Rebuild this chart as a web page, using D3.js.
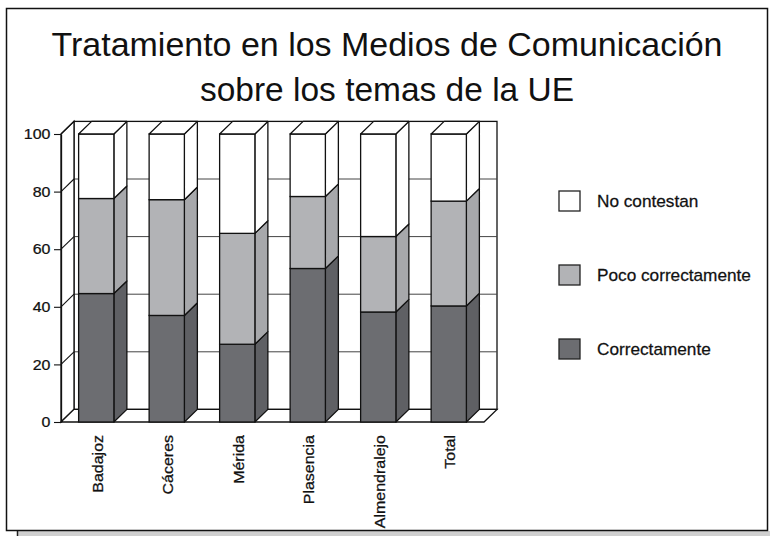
<!DOCTYPE html>
<html>
<head>
<meta charset="utf-8">
<script src="https://cdn.jsdelivr.net/npm/d3@7/dist/d3.min.js"></script>
<style>
  html, body { margin: 0; padding: 0; background: #fff; }
  svg { display: block; }
  text { font-family: "Liberation Sans", Arial, sans-serif; fill: #111; }
  .lbl { stroke: #111; stroke-width: 0.25px; }
</style>
</head>
<body>
<svg id="chart" width="770" height="536"></svg>
<script>
const titleLines = ["Tratamiento en los Medios de Comunicación", "sobre los temas de la UE"];
const categories = ["Badajoz", "Cáceres", "Mérida", "Plasencia", "Almendralejo", "Total"];
const correctamente = [44.6, 37.0, 27.0, 53.3, 38.2, 40.3];
const pocoCorrectamente = [33.0, 40.2, 38.5, 25.0, 26.2, 36.4];
const noContestan = [22.4, 22.8, 34.5, 21.7, 35.6, 23.3];
const seriesNames = ["Correctamente", "Poco correctamente", "No contestan"];
const yTicks = [0, 20, 40, 60, 80, 100];

const svg = d3.select("#chart");
const W = 770, H = 536;

// frame
svg.append("rect").attr("x", 17).attr("y", 531).attr("width", W - 17).attr("height", 5).attr("fill", "#cfcfcf");
svg.append("line").attr("x1", 17.5).attr("x2", 17.5).attr("y1", 531).attr("y2", 536).attr("stroke", "#222").attr("stroke-width", 1.5);
svg.append("rect").attr("x", 6.5).attr("y", 8.5).attr("width", 761).attr("height", 522)
  .attr("fill", "#fff").attr("stroke", "#111").attr("stroke-width", 1.5);

// title
const titleG = svg.append("g");
const titleSpecs = [{ y: 56, len: 671 }, { y: 101, len: 374 }];
titleLines.forEach((t, i) => {
  titleG.append("text")
    .attr("x", 387).attr("y", titleSpecs[i].y)
    .attr("text-anchor", "middle")
    .attr("font-size", 34)
    .attr("textLength", titleSpecs[i].len)
    .attr("lengthAdjust", "spacingAndGlyphs")
    .style("font-family", "'Liberation Sans', Arial, sans-serif")
    .text(t);
});

// scales
const x = d3.scaleBand().domain(categories).range([61, 484]).paddingInner(0.5).paddingOuter(0.25);
const y = d3.scaleLinear().domain([0, 100]).range([422, 134]);
const dx = 13, dy = -12.6;
const x0 = x.range()[0], x1 = x.range()[1];

const colors = { front: ["#6c6d71", "#b2b3b6", "#ffffff"], side: ["#5f6064", "#a7a8ab", "#ffffff"] };
const strokeC = "#111", sw = 1.3;

// back wall
const g = svg.append("g");
g.append("rect").attr("x", x0 + dx).attr("y", y(100) + dy).attr("width", x1 - x0).attr("height", y(0) - y(100))
  .attr("fill", "#fff").attr("stroke", strokeC).attr("stroke-width", sw);
g.selectAll(".grid").data(yTicks.filter(v => v > 0 && v < 100)).enter().append("line")
  .attr("x1", x0 + dx).attr("x2", x1 + dx)
  .attr("y1", d => y(d) + dy).attr("y2", d => y(d) + dy)
  .attr("stroke", "#444").attr("stroke-width", 1);
// left wall
g.append("path")
  .attr("d", `M${x0},${y(0)} L${x0},${y(100)} L${x0 + dx},${y(100) + dy} L${x0 + dx},${y(0) + dy} Z`)
  .attr("fill", "#fff").attr("stroke", strokeC).attr("stroke-width", sw);
g.selectAll(".diag").data(yTicks).enter().append("line")
  .attr("x1", x0).attr("y1", d => y(d))
  .attr("x2", x0 + dx).attr("y2", d => y(d) + dy)
  .attr("stroke", strokeC).attr("stroke-width", 1.1);
// floor
g.append("path")
  .attr("d", `M${x0},${y(0)} L${x1},${y(0)} L${x1 + dx},${y(0) + dy} L${x0 + dx},${y(0) + dy} Z`)
  .attr("fill", "#fff").attr("stroke", strokeC).attr("stroke-width", sw);

// bars
const seriesData = [correctamente, pocoCorrectamente, noContestan];
const bw = x.bandwidth();
categories.forEach((c, i) => {
  const bx = x(c);
  let base = 0;
  const bg = g.append("g");
  seriesData.forEach((s, k) => {
    const v0 = base, v1 = base + s[i];
    base = v1;
    const yT = y(v1), yB = y(v0);
    bg.append("path")
      .attr("d", `M${bx + bw},${yB} L${bx + bw},${yT} L${bx + bw + dx},${yT + dy} L${bx + bw + dx},${yB + dy} Z`)
      .attr("fill", colors.side[k]).attr("stroke", strokeC).attr("stroke-width", sw).attr("stroke-linejoin", "round");
    bg.append("rect").attr("x", bx).attr("y", yT).attr("width", bw).attr("height", yB - yT)
      .attr("fill", colors.front[k]).attr("stroke", strokeC).attr("stroke-width", sw);
    if (k === seriesData.length - 1) {
      bg.append("path")
        .attr("d", `M${bx},${yT} L${bx + dx},${yT + dy} L${bx + bw + dx},${yT + dy} L${bx + bw},${yT} Z`)
        .attr("fill", colors.front[k]).attr("stroke", strokeC).attr("stroke-width", sw).attr("stroke-linejoin", "round");
    }
  });
});

// y axis
const yAxis = d3.axisLeft(y).tickValues(yTicks).tickSize(7).tickSizeOuter(0).tickPadding(3).tickFormat(d3.format("d"));
const ya = svg.append("g").attr("transform", `translate(${x0},0)`).call(yAxis);
ya.attr("font-family", null).attr("font-size", null);
ya.select(".domain").attr("stroke", strokeC).attr("stroke-width", sw);
ya.selectAll(".tick line").attr("stroke", strokeC).attr("stroke-width", 1.1);
ya.selectAll(".tick text")
  .attr("class", "lbl")
  .attr("font-size", 14.5).attr("fill", "#111")
  .attr("transform", "scale(1.1,1)")
  .attr("x", -10 / 1.1 - 0.5);

// x labels
svg.append("g").selectAll("text").data(categories).enter().append("text")
  .attr("class", "lbl")
  .attr("transform", d => `translate(${x(d) + bw / 2 + 1},435) rotate(-90) scale(1.08,1)`)
  .attr("text-anchor", "end")
  .attr("dy", "0.36em")
  .attr("font-size", 14.8)
  .text(d => d);

// legend
const legendItems = [
  { name: seriesNames[2], fill: colors.front[2], y: 191 },
  { name: seriesNames[1], fill: colors.front[1], y: 265 },
  { name: seriesNames[0], fill: colors.front[0], y: 339 }
];
const lg = svg.append("g");
legendItems.forEach(it => {
  lg.append("rect").attr("x", 559).attr("y", it.y).attr("width", 21).attr("height", 20)
    .attr("fill", it.fill).attr("stroke", "#222").attr("stroke-width", 1.3);
  lg.append("text").attr("class", "lbl").attr("transform", `translate(597,${it.y + 15.5}) scale(1.05,1)`)
    .attr("font-size", 16.4).text(it.name);
});
</script>
</body>
</html>
